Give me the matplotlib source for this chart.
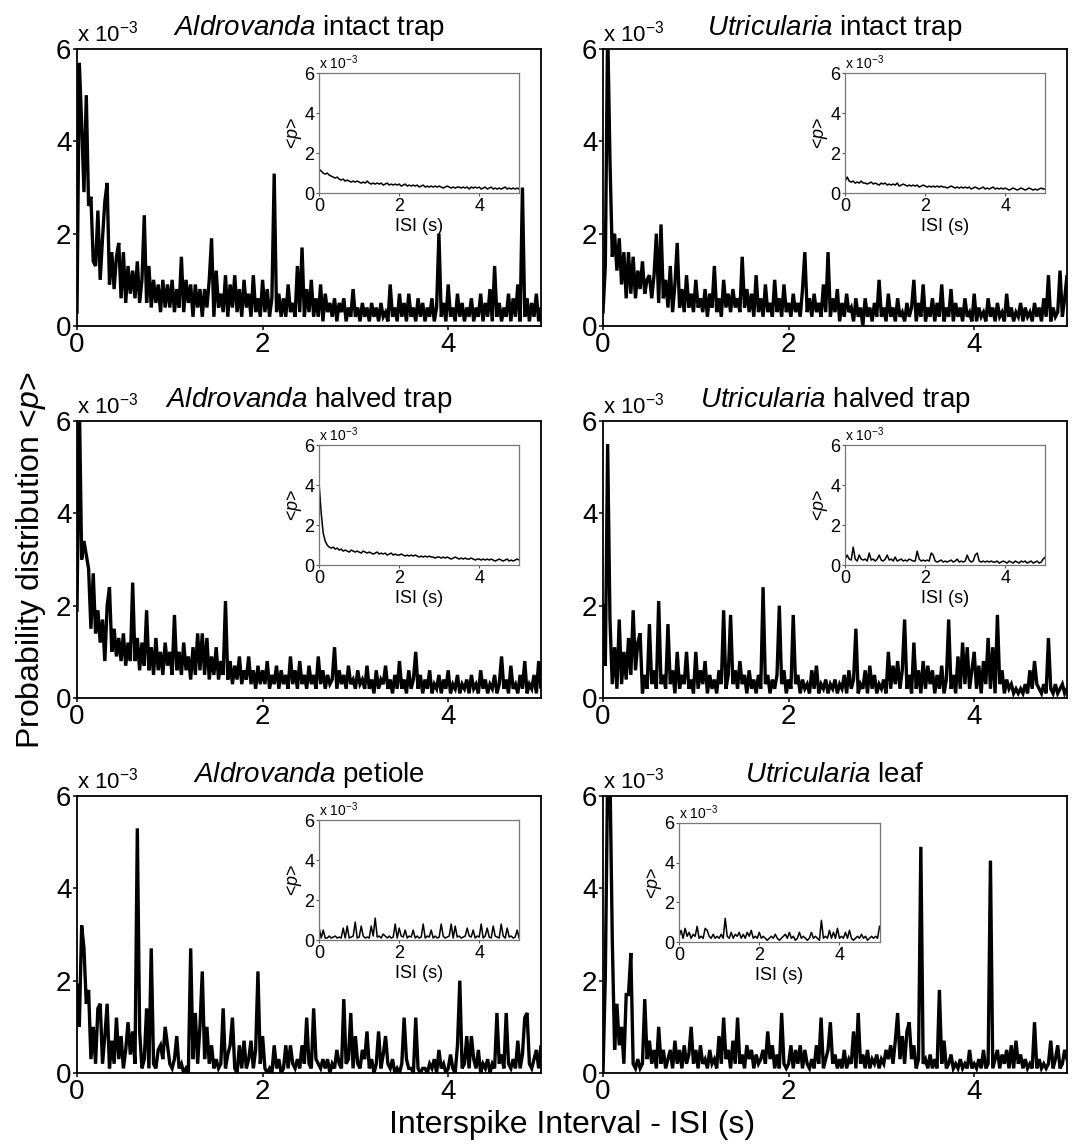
import numpy as np
import matplotlib
matplotlib.use('Agg')
import matplotlib.pyplot as plt

plt.rcParams['font.family'] = ['Liberation Sans', 'DejaVu Sans']
plt.rcParams['mathtext.fontset'] = 'custom'
plt.rcParams['mathtext.rm'] = 'Liberation Sans'
plt.rcParams['mathtext.it'] = 'Liberation Sans:italic'

# main traces, <p> in units of 1e-3, bins of 0.025 s starting at 0
aldro_intact = [
    0.3, 5.7, 4.4, 2.9, 5.0, 2.6, 2.8, 1.4, 1.3, 2.5,
    1.0, 1.9, 2.7, 3.1, 0.9, 1.6, 0.8, 1.5, 1.8, 0.6,
    1.6, 0.5, 1.3, 0.7, 1.2, 0.6, 1.4, 0.5, 1.0, 2.4,
    0.5, 1.3, 0.4, 1.0, 0.5, 0.9, 0.3, 1.0, 0.4, 0.9,
    0.4, 1.0, 0.3, 0.8, 0.4, 1.5, 0.3, 1.0, 0.5, 0.9,
    0.2, 0.9, 0.4, 0.8, 0.2, 0.8, 0.4, 1.0, 1.9, 0.2,
    1.2, 0.4, 0.7, 0.3, 1.1, 0.2, 0.9, 0.4, 1.1, 0.3,
    0.8, 0.2, 1.0, 0.4, 0.7, 0.2, 1.1, 0.3, 0.6, 0.2,
    1.0, 0.3, 0.8, 0.2, 0.6, 3.3, 0.3, 0.7, 0.2, 0.6,
    0.2, 0.9, 0.3, 0.5, 0.2, 1.3, 0.3, 1.7, 0.2, 0.8,
    0.3, 1.0, 0.2, 0.6, 0.2, 0.9, 0.1, 0.7, 0.3, 0.5,
    0.2, 0.6, 0.1, 0.5, 0.3, 0.6, 0.1, 0.4, 0.2, 0.8,
    0.2, 0.4, 0.1, 0.5, 0.2, 0.4, 0.1, 0.5, 0.2, 0.4,
    0.1, 0.5, 0.2, 0.3, 0.1, 0.9, 0.2, 0.4, 0.1, 0.7,
    0.2, 0.5, 0.1, 0.7, 0.2, 0.4, 0.1, 0.6, 0.2, 0.5,
    0.1, 0.4, 0.2, 0.6, 0.1, 0.4, 2.0, 0.2, 0.5, 0.1,
    0.9, 0.2, 0.4, 0.1, 0.7, 0.2, 0.5, 0.1, 0.4, 0.2,
    0.6, 0.1, 0.4, 0.2, 0.7, 0.1, 0.5, 0.2, 0.8, 0.1,
    1.3, 0.2, 0.5, 0.1, 0.4, 0.2, 0.7, 0.1, 0.6, 0.2,
    0.9, 0.1, 3.0, 0.2, 0.6, 0.1, 0.5, 0.2, 0.7, 0.1,
    0.4, 0.2]

utric_intact = [
    0.3, 1.3, 6.5, 3.6, 1.5, 2.0, 1.2, 1.9, 0.9, 1.6,
    0.6, 1.6, 0.7, 1.5, 0.6, 1.2, 0.8, 1.4, 0.7, 1.0,
    1.1, 0.6, 1.1, 2.0, 0.5, 2.2, 0.6, 1.0, 0.4, 1.3,
    0.3, 0.9, 1.8, 0.4, 0.8, 0.3, 1.1, 0.4, 0.7, 0.3,
    1.0, 0.4, 0.6, 0.3, 0.8, 0.2, 0.7, 0.4, 1.3, 0.3,
    0.6, 0.2, 1.0, 0.4, 0.7, 0.3, 0.8, 0.4, 0.6, 0.3,
    1.5, 0.4, 0.8, 0.3, 0.7, 0.2, 1.1, 0.3, 0.6, 0.2,
    0.9, 0.3, 0.5, 0.2, 1.0, 0.3, 0.6, 0.2, 0.9, 0.3,
    0.5, 0.2, 0.7, 0.3, 0.5, 0.2, 0.8, 1.6, 0.3, 0.6,
    0.2, 0.7, 0.3, 0.5, 0.2, 0.9, 0.3, 1.6, 0.2, 0.6,
    0.3, 0.8, 0.1, 0.5, 0.2, 0.7, 0.3, 0.4, 0.1, 0.6,
    0.2, 0.4, 0.0, 0.6, 0.2, 0.4, 0.1, 0.5, 0.2, 1.0,
    0.2, 0.4, 0.1, 0.7, 0.2, 0.4, 0.1, 0.6, 0.2, 0.3,
    0.1, 0.5, 0.2, 0.4, 1.0, 0.1, 0.5, 0.2, 0.9, 0.1,
    0.4, 0.2, 0.6, 0.1, 0.5, 0.2, 0.9, 0.1, 0.4, 0.2,
    0.8, 0.1, 0.5, 0.2, 0.4, 0.1, 0.6, 0.2, 0.3, 0.1,
    0.7, 0.1, 0.4, 0.2, 0.3, 0.1, 0.6, 0.2, 0.4, 0.1,
    0.5, 0.2, 0.3, 0.1, 0.7, 0.2, 0.4, 0.1, 0.3, 0.2,
    0.5, 0.1, 0.4, 0.2, 0.3, 0.1, 0.5, 0.2, 0.4, 0.1,
    0.6, 0.2, 1.1, 0.1, 0.4, 0.2, 0.3, 1.2, 0.2, 0.6,
    1.1, 0.4]

aldro_halved = [
    1.9, 6.5, 3.0, 3.4, 3.1, 2.8, 1.5, 2.7, 1.4, 1.9,
    1.2, 1.7, 0.8, 2.0, 2.4, 1.0, 1.5, 0.9, 1.3, 0.8,
    1.4, 0.7, 1.2, 0.8, 2.5, 0.8, 1.3, 0.6, 1.2, 0.7,
    1.9, 0.6, 1.1, 0.5, 1.3, 0.6, 1.0, 0.5, 1.2, 0.7,
    1.0, 0.5, 1.8, 0.6, 1.0, 0.5, 1.2, 0.6, 0.9, 0.4,
    1.1, 0.5, 1.4, 0.6, 1.4, 0.5, 1.3, 0.4, 0.9, 0.5,
    1.1, 0.4, 0.8, 0.5, 2.1, 0.4, 0.8, 0.3, 0.7, 0.4,
    0.9, 0.3, 0.6, 0.4, 0.9, 0.3, 0.6, 0.2, 0.7, 0.3,
    0.6, 0.3, 0.8, 0.2, 0.5, 0.3, 0.7, 0.2, 0.6, 0.3,
    0.5, 0.2, 0.9, 0.3, 0.6, 0.2, 0.8, 0.3, 0.5, 0.2,
    0.7, 0.3, 0.5, 0.2, 0.9, 0.3, 0.6, 0.2, 0.5, 0.3,
    0.4, 1.1, 0.2, 0.6, 0.3, 0.5, 0.2, 0.7, 0.3, 0.4,
    0.2, 0.6, 0.3, 0.4, 0.2, 0.7, 0.2, 0.4, 0.1, 0.6,
    0.2, 0.4, 0.3, 0.7, 0.2, 0.4, 0.1, 0.5, 0.2, 0.8,
    0.2, 0.4, 0.1, 0.6, 0.2, 0.4, 1.0, 0.2, 0.5, 0.1,
    0.4, 0.2, 0.6, 0.1, 0.3, 0.2, 0.5, 0.1, 0.4, 0.2,
    0.6, 0.1, 0.3, 0.2, 0.5, 0.1, 0.3, 0.2, 0.4, 0.1,
    0.5, 0.2, 0.3, 0.1, 0.6, 0.2, 0.4, 0.1, 0.3, 0.2,
    0.5, 0.1, 0.3, 0.9, 0.2, 0.4, 0.1, 0.7, 0.2, 0.3,
    0.1, 0.5, 0.2, 0.8, 0.1, 0.3, 0.2, 0.5, 0.1, 0.8,
    0.2, 0.3]

utric_halved = [
    2.0, 0.7, 5.5, 1.7, 0.3, 1.1, 0.2, 1.7, 0.3, 1.0,
    0.4, 1.3, 0.5, 1.9, 0.6, 1.2, 1.4, 0.1, 0.5, 0.2,
    1.6, 0.3, 0.6, 0.2, 2.1, 0.3, 0.5, 0.2, 1.6, 0.3,
    0.6, 0.1, 1.0, 0.2, 0.5, 0.3, 1.0, 0.2, 0.4, 0.1,
    1.0, 0.2, 0.6, 0.3, 0.8, 0.1, 0.5, 0.2, 0.4, 0.1,
    0.6, 0.3, 1.9, 0.2, 0.5, 1.8, 0.3, 0.6, 0.2, 0.8,
    0.3, 0.5, 0.1, 0.6, 0.2, 0.4, 0.1, 0.5, 0.2, 2.4,
    0.3, 0.5, 0.1, 0.4, 0.2, 0.5, 2.0, 0.3, 0.6, 0.1,
    0.4, 0.2, 1.8, 0.3, 0.5, 0.1, 0.4, 0.2, 0.3, 0.1,
    0.6, 0.2, 0.7, 0.1, 0.3, 0.2, 0.4, 0.1, 0.3, 0.2,
    0.4, 0.1, 0.3, 0.2, 0.5, 0.1, 0.6, 0.2, 0.4, 1.5,
    0.1, 0.3, 0.2, 0.6, 0.1, 0.7, 0.2, 0.5, 0.1, 0.3,
    0.2, 0.4, 0.1, 1.0, 0.2, 0.7, 0.3, 0.8, 0.2, 0.6,
    1.7, 0.2, 0.5, 0.1, 1.2, 0.2, 0.6, 0.1, 0.8, 0.2,
    0.7, 0.3, 0.6, 0.1, 0.5, 0.2, 0.7, 0.1, 0.4, 1.7,
    0.2, 0.5, 0.1, 0.9, 0.2, 1.2, 0.3, 1.1, 0.2, 0.6,
    1.0, 0.2, 0.7, 0.1, 0.8, 0.3, 1.3, 0.2, 1.1, 0.1,
    1.8, 0.3, 0.6, 0.1, 0.4, 0.2, 0.3, 0.1, 0.2, 0.1,
    0.2, 0.1, 0.3, 0.1, 0.6, 0.2, 0.8, 0.3, 0.2, 0.1,
    0.3, 0.1, 1.3, 0.2, 0.1, 0.3, 0.1, 0.2, 0.3, 0.1,
    0.2, 0.1]

aldro_petiole = [
    1.9, 1.0, 3.2, 2.7, 1.5, 1.8, 0.3, 1.0, 0.2, 1.4,
    1.5, 0.2, 0.8, 1.5, 0.1, 0.7, 0.2, 1.2, 0.3, 0.8,
    0.1, 0.5, 1.1, 0.4, 0.9, 0.2, 5.3, 0.9, 0.1, 0.3,
    1.4, 0.1, 2.7, 0.2, 0.1, 0.5, 0.6, 0.3, 1.0, 0.6,
    0.2, 0.1, 0.3, 0.8, 0.1, 0.2, 0.0, 0.1, 0.0, 2.7,
    0.3, 1.3, 0.2, 1.0, 2.2, 0.3, 1.0, 0.2, 0.6, 0.1,
    0.3, 0.1, 0.2, 1.4, 0.1, 0.4, 0.6, 1.2, 0.1, 0.0,
    0.6, 0.1, 0.7, 0.1, 0.3, 0.7, 0.1, 0.5, 2.2, 0.2,
    0.8, 0.1, 0.0, 0.1, 0.0, 0.6, 0.1, 0.3, 0.0, 0.1,
    0.6, 0.1, 0.6, 0.2, 0.1, 0.3, 0.1, 0.6, 0.2, 1.2,
    0.2, 0.1, 1.4, 0.3, 0.2, 0.1, 0.3, 0.1, 0.3, 0.0,
    0.2, 0.1, 0.5, 0.2, 0.1, 1.6, 0.2, 0.3, 1.3, 0.1,
    0.8, 0.2, 0.1, 0.5, 0.3, 0.9, 0.1, 0.3, 0.0, 0.2,
    0.9, 0.1, 0.4, 0.8, 0.2, 0.1, 0.3, 0.0, 0.1, 0.0,
    0.2, 1.2, 0.3, 0.1, 0.1, 0.0, 1.2, 0.1, 0.0, 0.1,
    0.1, 0.0, 0.2, 0.1, 0.3, 0.0, 0.5, 0.1, 0.2, 0.0,
    0.1, 0.4, 0.1, 0.0, 0.6, 2.0, 0.1, 0.2, 0.8, 0.1,
    0.8, 0.3, 0.1, 0.5, 0.0, 0.2, 0.1, 0.3, 0.0, 0.2,
    0.1, 1.3, 0.2, 0.4, 0.1, 1.3, 0.2, 0.1, 0.3, 0.1,
    0.7, 0.1, 0.4, 1.2, 1.3, 0.2, 0.1, 0.3, 0.5, 0.1,
    0.6, 0.2]

utric_leaf = [
    0.0, 2.1, 6.5, 6.5, 2.9, 0.5, 1.5, 0.6, 1.0, 0.2,
    1.7, 1.7, 2.6, 0.2, 0.1, 0.3, 0.1, 0.2, 1.6, 0.3,
    0.7, 0.2, 0.5, 0.1, 1.0, 0.2, 0.5, 0.1, 0.3, 0.5,
    0.1, 0.7, 0.2, 0.5, 0.1, 0.6, 0.2, 0.4, 1.0, 0.2,
    0.5, 0.1, 0.6, 0.2, 0.3, 0.1, 0.5, 0.2, 0.3, 0.1,
    0.8, 0.2, 1.2, 0.3, 0.5, 0.1, 0.7, 0.2, 1.2, 0.2,
    0.4, 0.1, 0.6, 0.3, 0.5, 0.1, 0.4, 0.2, 0.3, 0.5,
    0.2, 0.9, 0.3, 0.6, 0.1, 0.4, 0.1, 1.3, 0.2, 0.1,
    0.2, 0.6, 0.1, 0.5, 0.2, 0.6, 0.1, 0.5, 0.2, 0.1,
    0.3, 0.1, 0.6, 0.2, 1.2, 0.1, 0.3, 0.5, 1.1, 0.2,
    0.4, 0.1, 0.3, 0.1, 0.5, 0.1, 0.3, 0.2, 0.9, 0.1,
    1.3, 0.2, 0.4, 0.1, 0.5, 0.1, 0.3, 0.2, 0.4, 0.1,
    0.3, 0.2, 0.5, 0.3, 0.6, 0.2, 0.7, 1.3, 0.3, 0.8,
    0.2, 0.9, 1.1, 0.3, 0.6, 0.1, 0.3, 4.9, 0.2, 0.3,
    0.1, 0.4, 0.1, 0.3, 0.1, 1.8, 0.2, 0.7, 0.1, 0.2,
    0.4, 0.1, 0.2, 0.1, 0.3, 0.1, 0.2, 0.1, 0.5, 0.1,
    0.2, 0.1, 0.3, 0.1, 0.5, 0.1, 0.2, 4.6, 0.1, 0.3,
    0.5, 0.1, 0.4, 0.2, 0.5, 0.1, 0.6, 0.1, 0.7, 0.2,
    0.4, 0.1, 0.3, 0.1, 0.2, 0.1, 1.1, 0.1, 0.3, 0.1,
    0.2, 0.1, 0.2, 0.7, 0.1, 0.3, 0.6, 0.1, 0.2, 0.5,
    0.3, 0.1]

# inset traces (averages), units of 1e-3, bins of 0.05 s
ins_aldro_intact = [
    1.2, 1.1, 1.0, 0.95, 1.0, 0.9, 0.85, 0.8, 0.75, 0.8,
    0.7, 0.65, 0.7, 0.6, 0.65, 0.6, 0.55, 0.6, 0.55, 0.6,
    0.55, 0.5, 0.55, 0.5, 0.6, 0.5, 0.45, 0.5, 0.45, 0.5,
    0.45, 0.5, 0.4, 0.45, 0.5, 0.4, 0.45, 0.4, 0.45, 0.4,
    0.45, 0.35, 0.4, 0.45, 0.35, 0.4, 0.35, 0.4, 0.35, 0.4,
    0.3, 0.35, 0.4, 0.3, 0.35, 0.3, 0.35, 0.3, 0.35, 0.3,
    0.35, 0.3, 0.25, 0.3, 0.35, 0.3, 0.25, 0.3, 0.25, 0.3,
    0.3, 0.25, 0.3, 0.25, 0.3, 0.2, 0.3, 0.25, 0.3, 0.25,
    0.3, 0.2, 0.25, 0.3, 0.2, 0.25, 0.3, 0.2, 0.25, 0.2,
    0.25, 0.2, 0.25, 0.3, 0.2, 0.25, 0.2, 0.25, 0.2, 0.25, 0.2]

ins_utric_intact = [
    0.6, 0.8, 0.6, 0.55, 0.6, 0.5, 0.55, 0.5, 0.6, 0.5,
    0.5, 0.45, 0.5, 0.55, 0.45, 0.5, 0.45, 0.4, 0.5, 0.45,
    0.5, 0.4, 0.45, 0.4, 0.45, 0.4, 0.5, 0.35, 0.4, 0.45,
    0.4, 0.35, 0.4, 0.35, 0.4, 0.35, 0.4, 0.3, 0.35, 0.4,
    0.35, 0.3, 0.35, 0.3, 0.35, 0.3, 0.35, 0.3, 0.35, 0.3,
    0.3, 0.25, 0.3, 0.35, 0.3, 0.25, 0.3, 0.25, 0.3, 0.25,
    0.3, 0.25, 0.3, 0.2, 0.25, 0.3, 0.25, 0.2, 0.25, 0.3,
    0.2, 0.25, 0.2, 0.25, 0.3, 0.2, 0.25, 0.2, 0.25, 0.2,
    0.25, 0.2, 0.15, 0.2, 0.25, 0.2, 0.15, 0.2, 0.25, 0.2,
    0.15, 0.2, 0.25, 0.2, 0.15, 0.2, 0.15, 0.2, 0.25, 0.2, 0.2]

ins_aldro_halved = [
    4.0, 2.6, 1.6, 1.2, 1.0, 0.9, 0.85, 0.9, 0.8, 0.85,
    0.75, 0.8, 0.7, 0.75, 0.7, 0.65, 0.75, 0.7, 0.65, 0.7,
    0.65, 0.6, 0.7, 0.65, 0.6, 0.65, 0.6, 0.55, 0.6, 0.65,
    0.55, 0.6, 0.55, 0.6, 0.5, 0.55, 0.6, 0.5, 0.55, 0.5,
    0.5, 0.55, 0.5, 0.45, 0.5, 0.45, 0.5, 0.45, 0.5, 0.45,
    0.4, 0.45, 0.4, 0.45, 0.4, 0.45, 0.4, 0.4, 0.35, 0.4,
    0.4, 0.35, 0.4, 0.35, 0.4, 0.35, 0.3, 0.35, 0.4, 0.35,
    0.3, 0.35, 0.3, 0.35, 0.3, 0.3, 0.35, 0.3, 0.25, 0.3,
    0.3, 0.25, 0.3, 0.25, 0.3, 0.25, 0.3, 0.25, 0.2, 0.25,
    0.3, 0.25, 0.2, 0.25, 0.3, 0.2, 0.25, 0.2, 0.25, 0.3, 0.25]

ins_utric_halved = [
    0.3, 0.5, 0.3, 0.25, 0.9, 0.3, 0.2, 0.5, 0.3, 0.25,
    0.3, 0.2, 0.6, 0.25, 0.3, 0.2, 0.3, 0.5, 0.25, 0.2,
    0.3, 0.5, 0.25, 0.3, 0.2, 0.4, 0.2, 0.25, 0.3, 0.2,
    0.25, 0.2, 0.3, 0.25, 0.2, 0.2, 0.7, 0.3, 0.2, 0.25,
    0.2, 0.25, 0.2, 0.6, 0.5, 0.2, 0.15, 0.2, 0.25, 0.15,
    0.2, 0.15, 0.2, 0.25, 0.15, 0.2, 0.3, 0.15, 0.2, 0.15,
    0.2, 0.5, 0.25, 0.15, 0.2, 0.5, 0.6, 0.2, 0.15, 0.2,
    0.15, 0.2, 0.15, 0.2, 0.15, 0.15, 0.2, 0.1, 0.15, 0.2,
    0.15, 0.1, 0.2, 0.15, 0.1, 0.2, 0.15, 0.1, 0.2, 0.15,
    0.2, 0.1, 0.15, 0.2, 0.1, 0.15, 0.2, 0.1, 0.15, 0.3, 0.4]

ins_aldro_petiole = [
    0.6, 0.1, 0.5, 0.1, 0.1, 0.2, 0.1, 0.15, 0.2, 0.1,
    0.15, 0.1, 0.6, 0.1, 0.7, 0.1, 0.15, 0.2, 0.9, 0.1,
    0.15, 0.7, 0.2, 0.1, 0.15, 0.1, 0.7, 0.2, 1.1, 0.15,
    0.2, 0.1, 0.3, 0.2, 0.1, 0.2, 0.1, 0.15, 0.8, 0.1,
    0.6, 0.2, 0.15, 0.5, 0.1, 0.2, 0.15, 0.5, 0.1, 0.2,
    0.1, 0.15, 0.8, 0.1, 0.2, 0.15, 0.5, 0.1, 0.2, 0.1,
    0.15, 0.8, 0.2, 0.1, 0.15, 0.2, 0.8, 0.1, 0.7, 0.15,
    0.2, 0.1, 0.15, 0.2, 0.6, 0.2, 0.15, 0.5, 0.1, 0.2,
    0.15, 0.8, 0.1, 0.2, 0.6, 0.15, 0.1, 0.7, 0.2, 0.15,
    0.1, 0.8, 0.2, 0.1, 0.6, 0.15, 0.2, 0.1, 0.15, 0.5, 0.1]

ins_utric_leaf = [
    0.3, 0.6, 0.2, 0.7, 0.3, 0.5, 0.2, 0.4, 0.3, 0.8,
    0.2, 0.3, 0.2, 0.7, 0.6, 0.3, 0.2, 0.4, 0.2, 0.3,
    0.2, 0.4, 0.2, 1.2, 0.3, 0.2, 0.5, 0.2, 0.4, 0.3,
    0.5, 0.2, 0.4, 0.2, 0.5, 0.3, 0.6, 0.2, 0.3, 0.2,
    0.5, 0.2, 0.3, 0.2, 0.1, 0.2, 0.3, 0.2, 0.4, 0.2,
    0.1, 0.2, 0.3, 0.4, 0.2, 0.5, 0.2, 0.3, 0.1, 0.2,
    0.5, 0.2, 0.3, 0.2, 0.1, 0.2, 0.5, 0.2, 0.3, 0.2,
    0.1, 1.1, 0.2, 0.3, 0.2, 0.6, 0.2, 0.5, 0.2, 0.7,
    0.2, 0.3, 0.2, 0.5, 0.2, 0.6, 0.2, 0.1, 0.2, 0.3,
    0.2, 0.4, 0.2, 0.3, 0.1, 0.2, 0.3, 0.2, 0.3, 0.2, 0.8]

titles = [r'$\mathit{Aldrovanda}$ intact trap', r'$\mathit{Utricularia}$ intact trap',
          r'$\mathit{Aldrovanda}$ halved trap', r'$\mathit{Utricularia}$ halved trap',
          r'$\mathit{Aldrovanda}$ petiole', r'$\mathit{Utricularia}$ leaf']
main_series = [aldro_intact, utric_intact, aldro_halved, utric_halved, aldro_petiole, utric_leaf]
inset_series = [ins_aldro_intact, ins_utric_intact, ins_aldro_halved, ins_utric_halved,
                ins_aldro_petiole, ins_utric_leaf]

W, H = 1078, 1145
fig = plt.figure(figsize=(W / 100, H / 100), dpi=100)

col_left = [77, 603]
row_top = [49, 421, 796]
ax_w, ax_h = 464, 277

for k in range(6):
    r, c = divmod(k, 2)
    ax = fig.add_axes([col_left[c] / W, 1 - (row_top[r] + ax_h) / H, ax_w / W, ax_h / H])
    y = main_series[k]
    x = np.arange(len(y)) * 0.025
    ax.plot(x, y, color='black', lw=2.4, solid_joinstyle='miter')
    ax.set_xlim(0, 5)
    ax.set_ylim(0, 6)
    ax.set_xticks([0, 2, 4])
    ax.set_yticks([0, 2, 4, 6])
    ax.tick_params(direction='out', length=3, width=1.1, labelsize=20, pad=1)
    for s in ax.spines.values():
        s.set_linewidth(1.3)
    ax.text(0.0, 1.01, 'x 10$^{-3}$', transform=ax.transAxes, ha='left', va='bottom', fontsize=16)
    ax.set_title(titles[k], fontsize=20, pad=10)

    # inset with the averaged curve
    if k == 5:
        pos = [0.164, 0.472, 0.432, 0.431]
    else:
        pos = [0.522, 0.48, 0.431, 0.432]
    ins = ax.inset_axes(pos)
    yi = inset_series[k]
    xi = np.arange(len(yi)) * 0.05
    ins.plot(xi, yi, color='black', lw=1.1)
    ins.set_xlim(0, 5)
    ins.set_ylim(0, 6)
    ins.set_xticks([0, 2, 4])
    ins.set_yticks([0, 2, 4, 6])
    ins.tick_params(direction='out', length=2.5, width=0.8, labelsize=13, pad=1, color='#555555')
    for s in ins.spines.values():
        s.set_linewidth(0.9)
        s.set_color('#777777')
    ins.set_xlabel('ISI (s)', fontsize=13, labelpad=2)
    ins.set_ylabel(r'<$\mathit{p}$>', fontsize=13, labelpad=0)
    ins.text(0.0, 1.01, 'x 10$^{-3}$', transform=ins.transAxes, ha='left', va='bottom', fontsize=10)

fig.text(31 / W, 1 - 560 / H, r'Probability distribution <$\mathit{p}$>', rotation=90,
         ha='center', va='center', fontsize=23)
fig.text(572 / W, 1 - 1125 / H, 'Interspike Interval - ISI (s)', ha='center', va='center', fontsize=23)

fig.savefig('out.png', dpi=100)
